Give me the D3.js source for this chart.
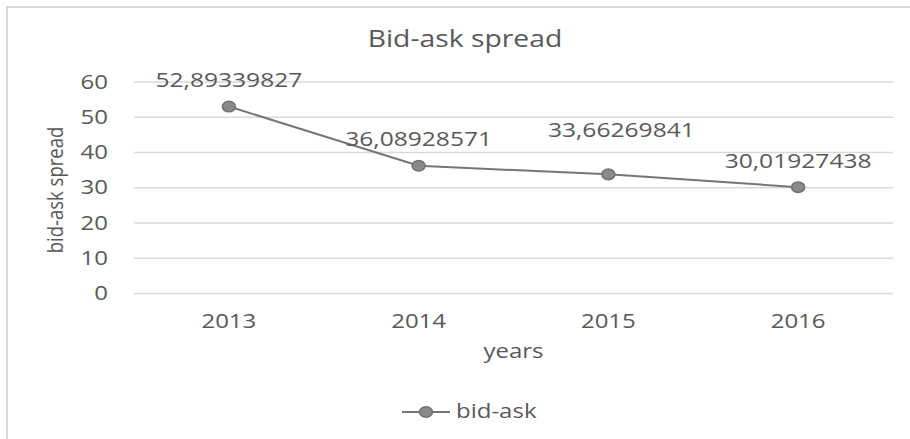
<!DOCTYPE html>
<html>
<head>
<meta charset="utf-8">
<script src="https://cdn.jsdelivr.net/npm/d3@7"></script>
<style>
  html, body { margin: 0; padding: 0; background: #fff; }
  svg { display: block; font-family: 'Open Sans', sans-serif; }
</style>
</head>
<body>
<div id="chart"></div>
<script>
const years   = ['2013', '2014', '2015', '2016']
const spread  = [52.89339827, 36.08928571, 33.66269841, 30.01927438]
const labels  = ['52,89339827', '36,08928571', '33,66269841', '30,01927438']
const yTicks  = [0, 10, 20, 30, 40, 50, 60]

const W = 910, H = 439
const TEXT = '#595959', GRID = '#d9d9d9'
const SX = 1.2   // the reference is stretched sideways a little

const svg = d3.select('#chart').append('svg').attr('width', W).attr('height', H)

// chart frame (right and bottom edges sit outside the picture)
svg.append('rect')
  .attr('x', 7).attr('y', 7).attr('width', W + 20).attr('height', H + 20)
  .attr('fill', '#fff').attr('stroke', GRID).attr('stroke-width', 2)

const x = d3.scaleBand().domain(years).range([134, 893]).padding(0)
const y = d3.scaleLinear().domain([0, 60]).range([293, 81.5])
const cx = d => x(d) + x.bandwidth() / 2

function stretch(sel, sx) {
  sel.each(function () {
    const t = d3.select(this)
    t.attr('x', (+t.attr('x') || 0) / sx).attr('transform', `scale(${sx},1)`)
  })
}

// gridlines
svg.append('g')
  .attr('transform', 'translate(134,0)')
  .call(d3.axisLeft(y).tickValues(yTicks).tickSize(-(893 - 134)).tickFormat(''))
  .call(g => g.select('.domain').remove())
  .call(g => g.selectAll('line').attr('stroke', GRID).attr('stroke-width', 1.4))

// y tick labels
const yAxis = svg.append('g')
  .attr('transform', 'translate(134,0)')
  .call(d3.axisLeft(y).tickValues(yTicks).tickSize(0).tickPadding(26))
yAxis.select('.domain').remove()
yAxis.selectAll('text')
  .attr('font-size', 20).attr('font-family', "'Open Sans', sans-serif")
  .attr('fill', TEXT).attr('dy', '0.33em')
  .call(stretch, SX)

// x tick labels
const xAxis = svg.append('g')
  .attr('transform', 'translate(0,293)')
  .call(d3.axisBottom(x).tickSize(0).tickPadding(0))
xAxis.select('.domain').remove()
xAxis.selectAll('text')
  .attr('font-size', 20).attr('font-family', "'Open Sans', sans-serif")
  .attr('fill', TEXT).attr('y', 35).attr('dy', 0)
  .call(stretch, SX)

// title
svg.append('text')
  .attr('x', 465).attr('y', 47)
  .attr('text-anchor', 'middle').attr('font-size', 24).attr('fill', TEXT)
  .text('Bid-ask spread')
  .call(stretch, 1.18)

// axis titles
svg.append('text')
  .attr('x', 513.5).attr('y', 358)
  .attr('text-anchor', 'middle').attr('font-size', 20).attr('fill', TEXT)
  .text('years')
  .call(stretch, SX)

svg.append('text')
  .attr('transform', `translate(63,190) scale(${SX},1) rotate(-90)`)
  .attr('text-anchor', 'middle').attr('font-size', 18.5).attr('fill', TEXT)
  .text('bid-ask spread')

// series
const LINE = '#767676', MARK_FILL = '#8a8a8a', MARK_STROKE = '#717171'
const pts = years.map((yr, i) => [cx(yr), y(spread[i])])

svg.append('path')
  .attr('d', d3.line()(pts))
  .attr('fill', 'none').attr('stroke', LINE).attr('stroke-width', 2)

svg.append('g').selectAll('ellipse').data(pts).enter().append('ellipse')
  .attr('cx', d => d[0]).attr('cy', d => d[1])
  .attr('rx', 6.5).attr('ry', 5.3)
  .attr('fill', MARK_FILL).attr('stroke', MARK_STROKE).attr('stroke-width', 1.5)

// data labels; the 2015 one was dragged up and right in the original
svg.append('g').selectAll('text').data(years).enter().append('text')
  .attr('x', (d, i) => cx(d) + (i === 2 ? 13 : 0))
  .attr('y', (d, i) => y(spread[i]) - 19.5 - (i === 2 ? 18 : 0))
  .attr('text-anchor', 'middle').attr('font-size', 20.5).attr('fill', TEXT)
  .text((d, i) => labels[i])
  .call(stretch, SX)

// legend
const leg = svg.append('g')
leg.append('line')
  .attr('x1', 402).attr('x2', 450).attr('y1', 412).attr('y2', 412)
  .attr('stroke', LINE).attr('stroke-width', 2)
leg.append('ellipse')
  .attr('cx', 426).attr('cy', 412).attr('rx', 6.5).attr('ry', 5.3)
  .attr('fill', MARK_FILL).attr('stroke', MARK_STROKE).attr('stroke-width', 1.5)
leg.append('text')
  .attr('x', 456).attr('y', 418)
  .attr('font-size', 20).attr('fill', TEXT)
  .text('bid-ask')
  .call(stretch, SX)
</script>
</body>
</html>
